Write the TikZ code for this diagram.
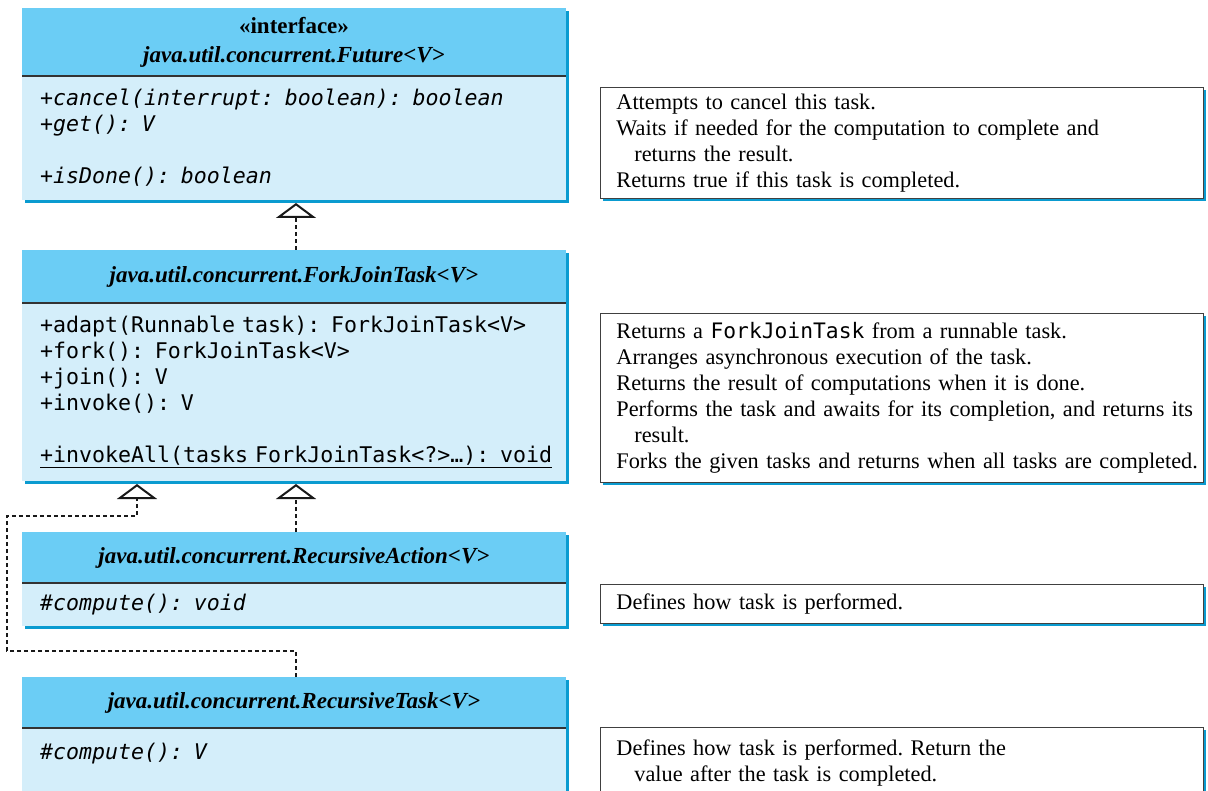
\documentclass[tikz,border=0pt]{standalone}
\usepackage{fontspec}
\setmainfont{Liberation Serif}
\setmonofont{DejaVu Sans Mono}
\usetikzlibrary{arrows.meta, positioning, shadows}
\definecolor{hdrblue}{HTML}{6BCDF5}
\definecolor{bodyblue}{HTML}{D4EEFA}
\definecolor{shadeblue}{HTML}{0A9BD0}
\definecolor{rulegray}{HTML}{333333}
\tikzset{
  blueshadow/.style={drop shadow={shadow xshift=3pt,shadow yshift=-3pt,
    fill=shadeblue,opacity=1}},
  umlhead/.style={rectangle,fill=hdrblue,minimum width=544pt,inner sep=0pt,
    outer sep=0pt,align=center,blueshadow,
    font=\fontsize{23}{29}\selectfont\bfseries\itshape},
  umlbody/.style={rectangle,fill=bodyblue,text width=508pt,inner xsep=18pt,
    inner ysep=0pt,outer sep=0pt,align=left,blueshadow,
    font=\fontsize{21.6}{26}\selectfont\ttfamily},
  note/.style={rectangle,draw=black!75,line width=0.8pt,fill=white,
    text width=571pt,inner xsep=16pt,inner ysep=0pt,align=left,blueshadow,
    font=\fontsize{22.3}{26}\selectfont\frenchspacing},
  divider/.style={draw=rulegray,line width=1.2pt},
  impl/.style={-{Triangle[open,width=40pt,length=15pt]},line width=2pt,
    dash pattern=on 4pt off 3pt,draw=black!90}
}

\begin{document}
\begin{tikzpicture}[x=1pt,y=-1pt,node distance=50pt]
  \clip (0,0) rectangle (1208,791);

  % class boxes
  \node[umlhead, minimum height=68pt, anchor=north west] (future) at (22,8)
    {{\upshape «interface»}\\ java.util.concurrent.Future<V>};
  \node[umlbody, minimum height=124pt, below=0pt of future] (futurebody)
    {\itshape +cancel(interrupt: boolean): boolean\\
     +get(): V\\[26pt]
     +isDone(): boolean};
  \node[umlhead, minimum height=53pt, below=50pt of futurebody] (fjt)
    {java.util.concurrent.ForkJoinTask<V>};
  \node[umlbody, minimum height=178pt, below=0pt of fjt] (fjtbody)
    {+adapt(Runnable task): ForkJoinTask<V>\\
     +fork(): ForkJoinTask<V>\\
     +join(): V\\
     +invoke(): V\\[26pt]
     \underline{+invokeAll(tasks ForkJoinTask<?>…): void}};
  \node[umlhead, minimum height=51pt, below=51pt of fjtbody] (raction)
    {java.util.concurrent.RecursiveAction<V>};
  \node[umlbody, minimum height=43pt, below=0pt of raction] (ractionbody)
    {\itshape \#compute(): void};
  \node[umlhead, minimum height=51pt, below=51pt of ractionbody] (rtask)
    {java.util.concurrent.RecursiveTask<V>};
  \node[umlbody, minimum height=72pt, below=0pt of rtask] (rtaskbody)
    {\itshape \#compute(): V\\ \mbox{}};

  \draw[divider] (futurebody.north west) -- (futurebody.north east);
  \draw[divider] (fjtbody.north west) -- (fjtbody.north east);
  \draw[divider] (ractionbody.north west) -- (ractionbody.north east);
  \draw[divider] (rtaskbody.north west) -- (rtaskbody.north east);

  % notes
  \node[note, minimum height=111pt, anchor=north west] (notefuture) at (600,87)
    {Attempts to cancel this task.\\
     Waits if needed for the computation to complete and\\
     \hspace*{18pt}returns the result.\\
     Returns true if this task is completed.};
  \node[note, minimum height=169pt, anchor=north west] (notefjt) at (600,313)
    {Returns a {\ttfamily\fontsize{21.3}{26}\selectfont ForkJoinTask} from a runnable task.\\
     Arranges asynchronous execution of the task.\\
     Returns the result of computations when it is done.\\
     \mbox{Performs the task and awaits for its completion, and returns its}\\
     \hspace*{18pt}result.\\
     \mbox{Forks the given tasks and returns when all tasks are completed.}};
  \node[note, minimum height=39pt, anchor=north west] (noteaction) at (600,584)
    {Defines how task is performed.};
  \node[note, minimum height=72pt, anchor=north west] (notetask) at (600,727)
    {Defines how task is performed. Return the\\
     \hspace*{18pt}value after the task is completed.};

  % realization arrows
  \draw[impl] ([xshift=2pt]fjt.north) -- ([xshift=2pt,yshift=-3pt]futurebody.south);
  \draw[impl] ([xshift=2pt]raction.north) -- ([xshift=2pt,yshift=-3pt]fjtbody.south);
  \draw[impl] ([xshift=2pt]rtask.north) -- ++(0,-26) -- ++(-289,0) -- ++(0,-135)
    -| ([xshift=-157pt,yshift=-3pt]fjtbody.south);
\end{tikzpicture}
\end{document}
